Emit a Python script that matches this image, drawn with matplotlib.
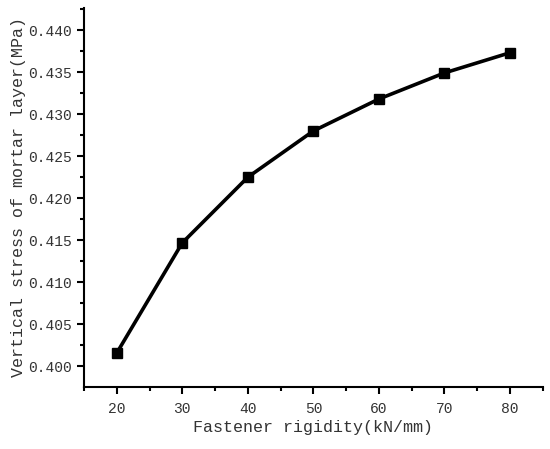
import matplotlib
matplotlib.use("Agg")
import matplotlib.pyplot as plt
from matplotlib.ticker import MultipleLocator, FormatStrFormatter

# Data
rigidity = [20, 30, 40, 50, 60, 70, 80]
stress = [0.4016, 0.4147, 0.4225, 0.4280, 0.4318, 0.4349, 0.4373]

plt.rcParams['font.family'] = ['Liberation Mono', 'DejaVu Sans']

fig = plt.figure(figsize=(5.5, 4.49), dpi=100)
ax = fig.add_axes([0.1527, 0.1388, 0.834, 0.843])

ax.plot(rigidity, stress, color='black', linewidth=2.6,
        marker='s', markersize=7, markerfacecolor='black',
        markeredgecolor='black')

ax.set_xlim(15, 85)
ax.set_ylim(0.3976, 0.4426)

ax.xaxis.set_major_locator(MultipleLocator(10))
ax.xaxis.set_minor_locator(MultipleLocator(5))
ax.yaxis.set_major_locator(MultipleLocator(0.005))
ax.yaxis.set_minor_locator(MultipleLocator(0.0025))
ax.yaxis.set_major_formatter(FormatStrFormatter('%.3f'))

for side in ['top', 'right']:
    ax.spines[side].set_visible(False)
for side in ['left', 'bottom']:
    ax.spines[side].set_linewidth(1.5)

ax.tick_params(which='major', direction='out', length=5, width=1.5,
               labelsize=10.5, colors='black', labelcolor='#333333')
ax.tick_params(axis='x', which='major', pad=6)
ax.tick_params(which='minor', direction='out', length=3, width=1.5)

ax.set_xlabel('Fastener rigidity(kN/mm)', fontsize=12, color='#333333',
              labelpad=3)
ax.set_ylabel('Vertical stress of mortar layer(MPa)', fontsize=12,
              color='#333333', labelpad=2)

fig.savefig('out.png', dpi=100)
